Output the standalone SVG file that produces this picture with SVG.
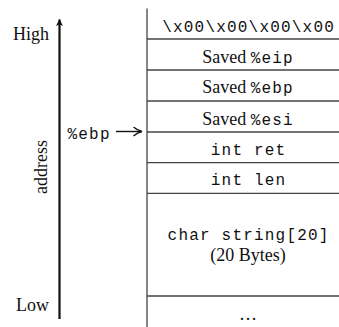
<svg xmlns="http://www.w3.org/2000/svg" width="339" height="327" viewBox="0 0 339 327">
<style>
.serif{font-family:"Liberation Serif","Times New Roman",serif;font-size:18px;fill:#111}
.mono{font-family:"Liberation Mono","Courier New",monospace;font-size:16px;letter-spacing:1.2px;fill:#111}
.cell{stroke:#444;stroke-width:1.3;fill:none}
.mid{text-anchor:middle}
</style>
<defs>
<marker id="ah" viewBox="0 0 10 10" refX="9" refY="5" markerWidth="10" markerHeight="10" markerUnits="userSpaceOnUse" orient="auto">
<path d="M1,0.5 Q5,4 9.5,5 Q5,6 1,9.5" fill="none" stroke="#111" stroke-width="1.4"/>
</marker>
<marker id="ah2" viewBox="0 0 8 8" refX="7.5" refY="4" markerWidth="7" markerHeight="7" markerUnits="userSpaceOnUse" orient="auto">
<path d="M0,0 L8,4 L0,8 L2,4 Z" fill="#111"/>
</marker>
</defs>
<g id="axis">
<text class="serif" x="13" y="40">High</text>
<text class="serif" x="16" y="311">Low</text>
<text class="serif mid" transform="translate(47,167) rotate(-90)">address</text>
</g>
<g id="stack">
<line class="cell" x1="147" y1="8.5" x2="147" y2="327"/>
<line class="cell" x1="147" y1="39" x2="339" y2="39"/>
<line class="cell" x1="147" y1="70" x2="339" y2="70"/>
<line class="cell" x1="147" y1="101" x2="339" y2="101"/>
<line class="cell" x1="147" y1="132" x2="339" y2="132"/>
<line class="cell" x1="147" y1="162.7" x2="339" y2="162.7"/>
<line class="cell" x1="147" y1="193.3" x2="339" y2="193.3"/>
<line class="cell" x1="147" y1="296" x2="339" y2="296"/>
</g>
<g id="cell-zeros"><text class="mono mid" x="248.6" y="31.5">\x00\x00\x00\x00</text></g>
<g id="cell-eip"><text class="mid" x="248" y="62.7"><tspan class="serif">Saved </tspan><tspan class="mono">%eip</tspan></text></g>
<g id="cell-ebp"><text class="mid" x="248" y="93.3"><tspan class="serif">Saved </tspan><tspan class="mono">%ebp</tspan></text></g>
<g id="cell-esi"><text class="mid" x="248" y="124.5"><tspan class="serif">Saved </tspan><tspan class="mono">%esi</tspan></text></g>
<g id="cell-ret"><text class="mono mid" x="248.6" y="154.8">int ret</text></g>
<g id="cell-len"><text class="mono mid" x="248.6" y="185.3">int len</text></g>
<g id="cell-string">
<text class="mono mid" x="248.6" y="240.3">char string[20]</text>
<text class="serif mid" x="248" y="261">(20 Bytes)</text>
</g>
<g id="cell-more"><text class="serif mid" x="248" y="320">…</text></g>
<g id="ebp-label"><text class="mono" x="67.5" y="139">%ebp</text></g>
<g id="connectors">
<line x1="59.5" y1="319" x2="59.5" y2="19.5" stroke="#111" stroke-width="2.2" marker-end="url(#ah2)"/>
<line x1="116" y1="131.5" x2="141.5" y2="131.5" stroke="#111" stroke-width="1.4" marker-end="url(#ah)"/>
</g>
</svg>
